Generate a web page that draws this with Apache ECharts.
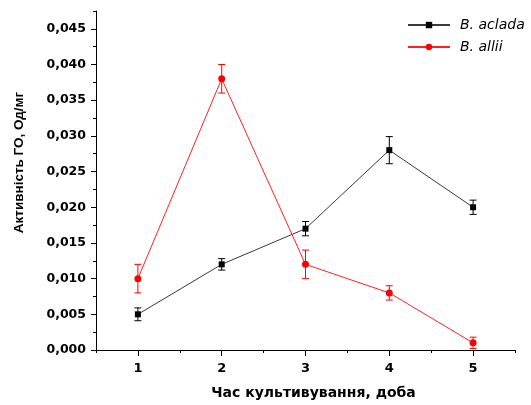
<!DOCTYPE html>
<html>
<head>
<meta charset="utf-8">
<script src="https://cdn.jsdelivr.net/npm/echarts@6/dist/echarts.min.js"></script>
<style>html,body{margin:0;padding:0;background:#fff}#c{width:531px;height:405px}</style>
</head>
<body>
<div id="c"></div>
<script>
const days = [1, 2, 3, 4, 5];
const acladaMean = [0.005, 0.012, 0.017, 0.028, 0.020];
const acladaErr = [0.0009, 0.0008, 0.001, 0.0019, 0.001];
const alliiMean = [0.010, 0.038, 0.012, 0.008, 0.001];
const alliiErr = [0.002, 0.002, 0.002, 0.001, 0.0008];
const yTickValues = [0, 0.005, 0.01, 0.015, 0.02, 0.025, 0.03, 0.035, 0.04, 0.045];
const xTickValues = [1, 2, 3, 4, 5];
const seriesNames = ['B. aclada', 'B. allii'];

const FONT = 'DejaVu Sans';
const chart = echarts.init(document.getElementById('c'), null, {renderer: 'canvas'});

function pts(means) { return days.map((d, i) => [d, means[i]]); }
function errData(means, errs) { return days.map((d, i) => [d, means[i] - errs[i], means[i] + errs[i]]); }
function errSeries(means, errs, color) {
  return {
    type: 'custom',
    xAxisIndex: 0, yAxisIndex: 0,
    data: errData(means, errs),
    z: 1,
    silent: true,
    renderItem: function (params, api) {
      const x = api.value(0);
      const lo = api.coord([x, api.value(1)]);
      const hi = api.coord([x, api.value(2)]);
      const w = 3.5;
      const st = {stroke: color, lineWidth: 1};
      return {type: 'group', children: [
        {type: 'line', shape: {x1: lo[0], y1: lo[1], x2: hi[0], y2: hi[1]}, style: st},
        {type: 'line', shape: {x1: lo[0] - w, y1: lo[1], x2: lo[0] + w, y2: lo[1]}, style: st},
        {type: 'line', shape: {x1: hi[0] - w, y1: hi[1], x2: hi[0] + w, y2: hi[1]}, style: st}
      ]};
    }
  };
}
const fmt = v => v.toFixed(3).replace('.', ',');

const option = {
  backgroundColor: '#fff',
  animation: false,
  grid: {left: 96, right: 16, top: 11, bottom: 53},
  legend: {
    left: 402, top: 13, orient: 'vertical', itemWidth: 42, itemHeight: 8, itemGap: 8,
    textStyle: {fontFamily: FONT, fontSize: 14, fontStyle: 'italic', color: '#000', padding: [0, 0, 0, 5]},
    data: seriesNames
  },
  xAxis: [{
    type: 'value', min: 0.5, max: 5.5, interval: 0.5,
    splitLine: {show: false},
    axisLine: {lineStyle: {color: '#000', width: 1}},
    axisTick: {show: true, inside: false, length: 3, lineStyle: {color: '#000'}},
    axisLabel: {show: false},
    name: 'Час культивування, доба', nameLocation: 'middle', nameGap: 36,
    nameTextStyle: {fontFamily: FONT, fontSize: 14, fontWeight: 'bold', color: '#000', padding: [0, 0, 0, 16]}
  }, {
    type: 'value', min: 0.5, max: 5.5, interval: 0.5, position: 'bottom',
    splitLine: {show: false},
    axisLine: {show: false},
    axisTick: {show: true, length: 6, customValues: xTickValues, lineStyle: {color: '#000'}},
    axisLabel: {show: true, customValues: xTickValues, margin: 12,
      fontFamily: FONT, fontSize: 13, fontWeight: 'bold', color: '#000', formatter: v => String(v)}
  }],
  yAxis: [{
    type: 'value', min: 0, max: 0.0475, interval: 0.0025,
    splitLine: {show: false},
    axisLine: {show: true, lineStyle: {color: '#000', width: 1}},
    axisTick: {show: true, length: 3, lineStyle: {color: '#000'}},
    axisLabel: {show: false},
    name: 'Активність ГО, Од/мг', nameLocation: 'middle', nameGap: 70,
    nameTextStyle: {fontFamily: 'Liberation Sans', fontSize: 13.5, fontWeight: 'bold', color: '#000', padding: [0, 0, 0, 36]}
  }, {
    type: 'value', min: 0, max: 0.0475, interval: 0.0025, position: 'left',
    splitLine: {show: false},
    axisLine: {show: false},
    axisTick: {show: true, length: 5, customValues: yTickValues, lineStyle: {color: '#000'}},
    axisLabel: {show: true, customValues: yTickValues, margin: 10,
      fontFamily: FONT, fontSize: 12.5, fontWeight: 'bold', color: '#000', formatter: fmt}
  }],
  series: [
    {
      name: seriesNames[0], type: 'line', data: pts(acladaMean), z: 3,
      symbol: 'rect', symbolSize: 6, showAllSymbol: true,
      lineStyle: {color: '#3a3a3a', width: 1},
      itemStyle: {color: '#000'}
    },
    {
      name: seriesNames[1], type: 'line', data: pts(alliiMean), z: 3,
      symbol: 'circle', symbolSize: 7,
      lineStyle: {color: '#ff2020', width: 1},
      itemStyle: {color: '#ff0000'}
    },
    errSeries(acladaMean, acladaErr, '#000'),
    errSeries(alliiMean, alliiErr, '#ff0000')
  ]
};
chart.setOption(option);
</script>
</body>
</html>
